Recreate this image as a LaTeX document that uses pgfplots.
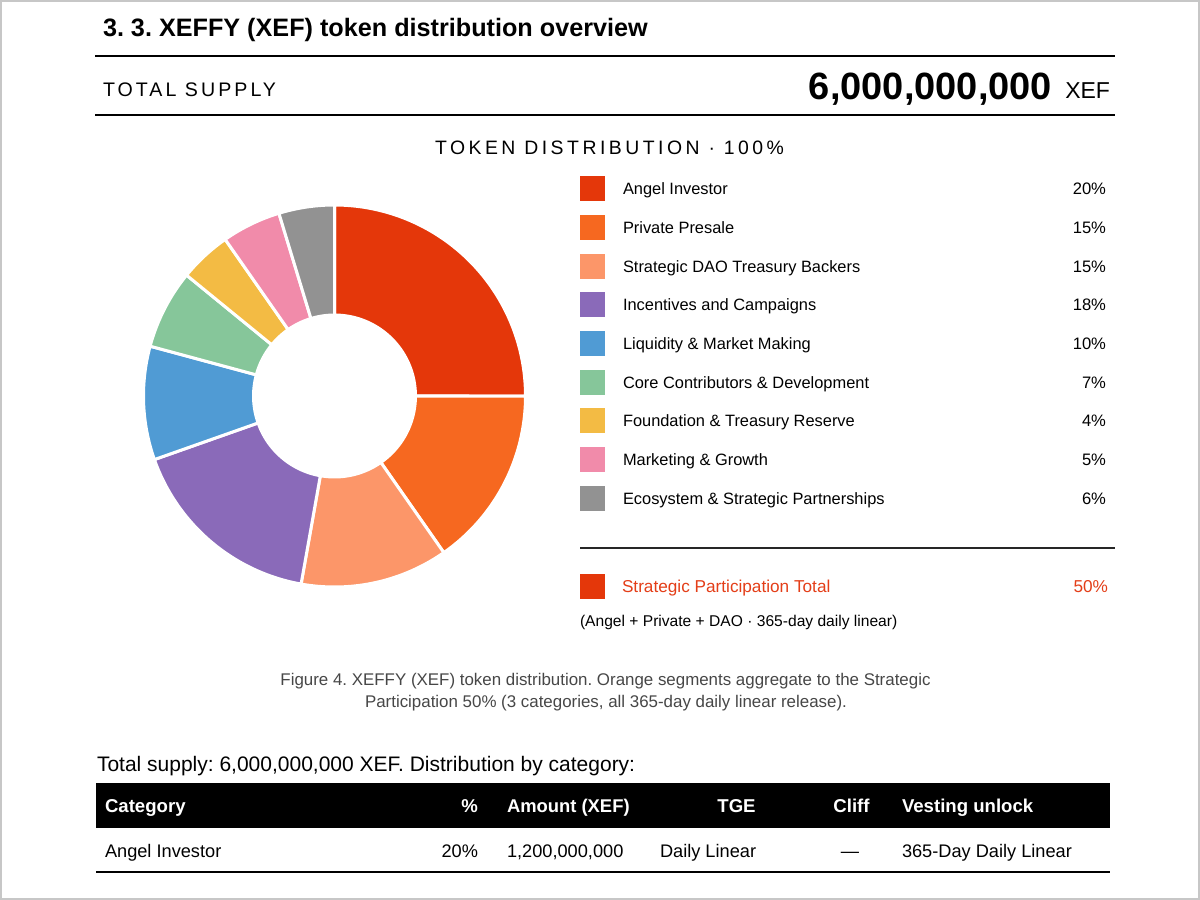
\documentclass[border=0pt]{standalone}
\usepackage{fontspec}
\setmainfont{Liberation Sans}
\newfontfamily\spacedA[LetterSpace=15.5]{Liberation Sans}
\newfontfamily\spacedB[LetterSpace=18]{Liberation Sans}
\usepackage{pgfplots}
\usepackage{pgfplotstable}
\pgfplotsset{compat=1.18}
\frenchspacing
\definecolor{cRed}{HTML}{E4370A}
\definecolor{cOrange}{HTML}{F66820}
\definecolor{cSalmon}{HTML}{FC9669}
\definecolor{cPurple}{HTML}{8A6AB9}
\definecolor{cBlue}{HTML}{509BD4}
\definecolor{cGreen}{HTML}{86C69A}
\definecolor{cYellow}{HTML}{F3BB44}
\definecolor{cPink}{HTML}{F18BAA}
\definecolor{cGray}{HTML}{929292}
\definecolor{cText}{HTML}{E43E18}
\newcommand\fs[1]{\fontsize{#1}{#1}\selectfont}
% shares of the ring as drawn (percent of the circle), clockwise from 12 o'clock
\pgfplotstableread{
share
25.0
15.3
12.5
16.8
9.6
6.7
4.4
5.0
4.7
}\donutdata
\begin{document}
\begin{tikzpicture}
\fill[white] (0,0) rectangle (600pt,-450pt);
\path[use as bounding box] (0,0) rectangle (600pt,-450pt);
\draw[black!22, line width=1pt] (0.5pt,-0.5pt) rectangle (599.5pt,-449.5pt);
\begin{axis}[at={(167.25pt,-198pt)}, anchor=center, scale only axis,
  width=191pt, height=191pt, xmin=-1, xmax=1, ymin=-1, ymax=1,
  hide axis, clip=false]
\gdef\cumshare{0}
\foreach \i/\col in {0/cRed,1/cOrange,2/cSalmon,3/cPurple,4/cBlue,5/cGreen,6/cYellow,7/cPink,8/cGray}{
  \pgfplotstablegetelem{\i}{share}\of\donutdata
  \pgfmathsetmacro\segA{90-3.6*\cumshare}
  \pgfmathsetmacro\newcum{\cumshare+\pgfplotsretval}
  \pgfmathsetmacro\segB{90-3.6*\newcum}
  \xdef\cumshare{\newcum}
  \edef\doplot{\noexpand\addplot[fill=\col, draw=white, line width=1.5pt, line join=round,
     samples at={0,...,100,100.01,101,102,...,200}, variable=\noexpand\t]
     ({(\noexpand\t<=100?1:0.424)*cos(\noexpand\t<=100?(\segA)+((\segB)-(\segA))*\noexpand\t/100:(\segB)-((\segB)-(\segA))*(\noexpand\t-100)/100)},
      {(\noexpand\t<=100?1:0.424)*sin(\noexpand\t<=100?(\segA)+((\segB)-(\segA))*\noexpand\t/100:(\segB)-((\segB)-(\segA))*(\noexpand\t-100)/100)}) -- cycle;}
  \doplot
}
\end{axis}
\begin{scope}[x=0.5pt,y=-0.5pt, every node/.style={inner sep=0pt, outer sep=0pt}]
% title
\node[anchor=base west] at (103,36) {\fs{12.6pt}\bfseries 3. 3. XEFFY (XEF) token distribution overview};
\draw[black, line width=1pt] (95,56) -- (1115,56);
\node[anchor=base west] at (103,96) {\spacedA\fs{9.8pt}TOTAL SUPPLY};
\node[anchor=base east] at (1052,99) {\fs{19pt}\bfseries 6,000,000,000};
\node[anchor=base east] at (1110,98) {\fs{11.5pt}XEF};
\draw[black, line width=1pt] (95,115) -- (1115,115);
\node[anchor=base] at (609.5,154) {\spacedB\fs{9.7pt}TOKEN DISTRIBUTION · 100\%};
% legend
\foreach \y/\c/\lab/\p in {188/cRed/Angel Investor/20\%,
  227/cOrange/Private Presale/15\%,
  266/cSalmon/Strategic DAO Treasury Backers/15\%,
  304/cPurple/Incentives and Campaigns/18\%,
  343/cBlue/Liquidity \& Market Making/10\%,
  382/cGreen/Core Contributors \& Development/7\%,
  420/cYellow/Foundation \& Treasury Reserve/4\%,
  459/cPink/Marketing \& Growth/5\%,
  498/cGray/Ecosystem \& Strategic Partnerships/6\%}{
  \fill[\c] (580,\y-12.5) rectangle (605,\y+12.5);
  \node[anchor=base west] at (623,\y+6) {\fs{8.2pt}\lab};
  \node[anchor=base east] at (1106,\y+6) {\fs{8.3pt}\p};
}
\draw[black!85, line width=1pt] (580,548) -- (1115,548);
\fill[cRed] (580,573.5) rectangle (605,598.5);
\node[anchor=base west, text=cText] at (622,592) {\fs{8.6pt}Strategic Participation Total};
\node[anchor=base east, text=cText] at (1108,592) {\fs{8.6pt}50\%};
\node[anchor=base west] at (580,626) {\fs{7.8pt}(Angel + Private + DAO · 365-day daily linear)};
% caption
\node[anchor=base, text=black!72] at (605.5,685) {\fs{8.45pt}Figure 4. XEFFY (XEF) token distribution. Orange segments aggregate to the Strategic};
\node[anchor=base, text=black!72] at (606,707) {\fs{8.45pt}Participation 50\% (3 categories, all 365-day daily linear release).};
% table
\node[anchor=base west] at (97,771) {\fs{10.5pt}Total supply: 6,000,000,000 XEF. Distribution by category:};
\fill[black] (96,783) rectangle (1110,828);
\node[anchor=base west, text=white] at (105,812) {\fs{9.3pt}\bfseries Category};
\node[anchor=base east, text=white] at (478,812) {\fs{9.3pt}\bfseries \%};
\node[anchor=base west, text=white] at (507,812) {\fs{9.2pt}\bfseries Amount (XEF)};
\node[anchor=base, text=white] at (736.5,812) {\fs{9.3pt}\bfseries TGE};
\node[anchor=base, text=white] at (851.5,812) {\fs{9.3pt}\bfseries Cliff};
\node[anchor=base west, text=white] at (902,812) {\fs{9.3pt}\bfseries Vesting unlock};
\node[anchor=base west] at (105,857) {\fs{9.1pt}Angel Investor};
\node[anchor=base east] at (478,857) {\fs{9.1pt}20\%};
\node[anchor=base west] at (507,857) {\fs{9.1pt}1,200,000,000};
\node[anchor=base west] at (660,857) {\fs{9.1pt}Daily Linear};
\node[anchor=base] at (850,857) {\fs{9.1pt}—};
\node[anchor=base west] at (902,857) {\fs{9.1pt}365-Day Daily Linear};
\draw[black, line width=1pt] (96,872) -- (1110,872);
\end{scope}
\end{tikzpicture}
\end{document}
